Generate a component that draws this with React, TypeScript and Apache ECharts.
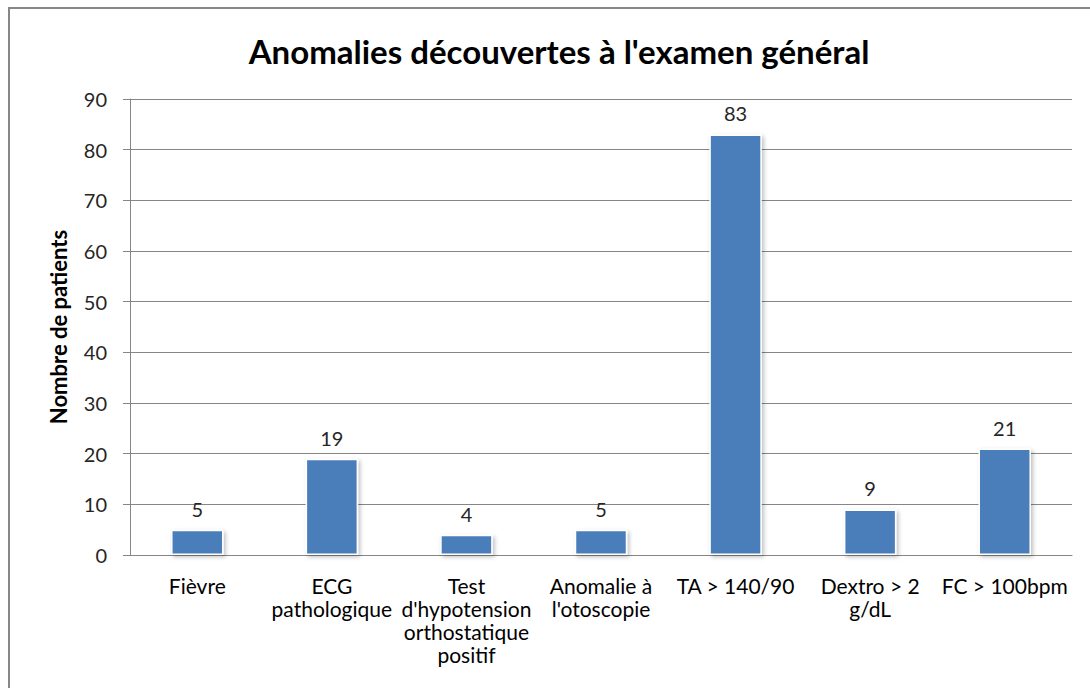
import React, { useEffect, useRef } from "react";
import * as echarts from "echarts";

const categories = [
  "Fièvre",
  "ECG\npathologique",
  "Test\nd'hypotension\northostatique\npositif",
  "Anomalie à\nl'otoscopie",
  "TA > 140/90",
  "Dextro > 2\ng/dL",
  "FC > 100bpm",
];
const values = [5, 19, 4, 5, 83, 9, 21];
const yTicks = { min: 0, max: 90, interval: 10 };
const titleText = "Anomalies découvertes à l'examen général";
const yAxisName = "Nombre de patients";

const FONT = "Lato, 'Open Sans', sans-serif";

export default function App() {
  const ref = useRef<HTMLDivElement>(null);
  useEffect(() => {
    if (!ref.current) return;
    const chart = echarts.init(ref.current, null, { renderer: "svg" });
    chart.setOption({
      animation: false,
      backgroundColor: "#ffffff",
      title: {
        text: titleText,
        left: 554,
        top: 29,
        textAlign: "center",
        textStyle: {
          fontFamily: FONT,
          fontSize: 33,
          fontWeight: "bold",
          color: "#000000",
        },
      },
      graphic: [
        {
          type: "rect",
          shape: { x: 9, y: 8, width: 1100, height: 700 },
          style: { fill: "none", stroke: "#878787", lineWidth: 2 },
          silent: true,
        },
      ],
      grid: { left: 130, right: 18, top: 99, bottom: 133, containLabel: false },
      xAxis: {
        type: "category",
        data: categories,
        axisLine: { lineStyle: { color: "#868686", width: 1 } },
        axisTick: { show: false },
        axisLabel: {
          interval: 0,
          margin: 19,
          fontFamily: FONT,
          fontSize: 21,
          lineHeight: 23,
          color: "#000000",
          align: "center",
          verticalAlign: "top",
        },
      },
      yAxis: {
        type: "value",
        min: yTicks.min,
        max: yTicks.max,
        interval: yTicks.interval,
        name: yAxisName,
        nameLocation: "middle",
        nameGap: 61,
        nameRotate: 90,
        nameTextStyle: {
          fontFamily: FONT,
          fontSize: 22,
          fontWeight: "bold",
          color: "#000000",
        },
        axisLine: { show: true, lineStyle: { color: "#868686", width: 1 } },
        axisTick: { show: true, length: 7, lineStyle: { color: "#868686" } },
        splitLine: { lineStyle: { color: "#868686", width: 1 } },
        axisLabel: {
          margin: 23,
          fontFamily: FONT,
          fontSize: 20,
          color: "#262626",
        },
      },
      series: [
        {
          type: "bar",
          data: values,
          barWidth: "39%",
          itemStyle: {
            color: "#4A7EBB",
            borderColor: "#ffffff",
            borderWidth: 1.5,
            shadowColor: "rgba(0,0,0,0.25)",
            shadowBlur: 4,
            shadowOffsetX: 2,
            shadowOffsetY: 2,
          },
          label: {
            show: true,
            position: "top",
            distance: 11,
            fontFamily: FONT,
            fontSize: 20,
            color: "#262626",
          },
        },
      ],
    });
    return () => chart.dispose();
  }, []);
  return (
    <div
      ref={ref}
      style={{ position: "fixed", left: 0, top: 0, width: 1090, height: 688 }}
    />
  );
}
